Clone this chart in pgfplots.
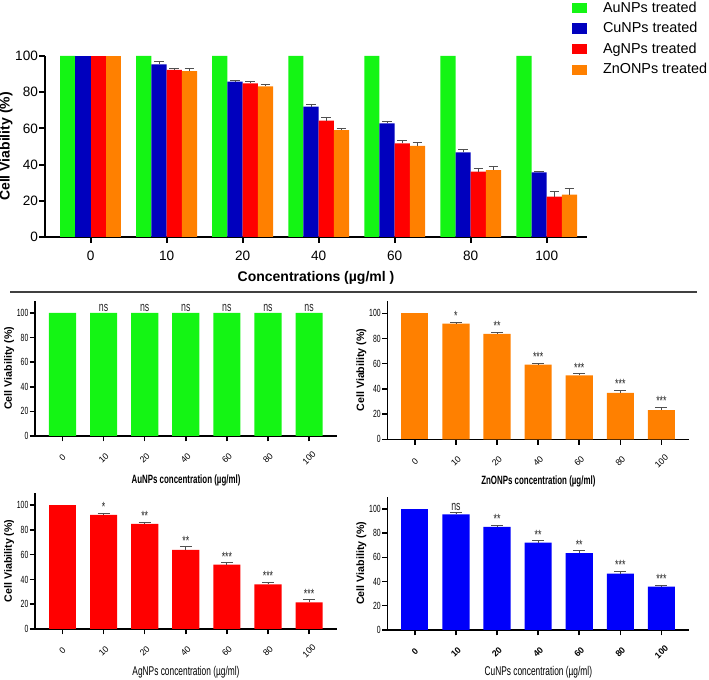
\documentclass[border=0pt]{standalone}
\usepackage{pgfplots}
\usepackage{pgfplotstable}
\pgfplotsset{compat=1.18}
\usepackage{fontspec}
\setmainfont{Liberation Sans}
\newfontfamily\narrow[FakeStretch=0.66]{Liberation Sans}
\definecolor{cgreen}{RGB}{20,245,20}
\definecolor{cblue}{RGB}{0,0,190}
\definecolor{cblue2}{RGB}{0,0,250}
\definecolor{cred}{RGB}{255,0,0}
\definecolor{corange}{RGB}{255,128,0}
\definecolor{errc}{RGB}{80,80,80}

\pgfplotstableread{
x y e lab
0 100 0 -
1 100 0 ns
2 100 0 ns
3 100 0 ns
4 100 0 ns
5 100 0 ns
6 100 0 ns
}\auTable
\pgfplotstableread{
x y e lab
0 100 0 -
1 91.8 1.3 *
2 83.6 1.3 **
3 59.2 1.3 ***
4 50.7 1.6 ***
5 36.9 2.1 ***
6 23.1 2.4 ***
}\znTable
\pgfplotstableread{
x y e lab
0 100 0 -
1 92.1 1.4 *
2 84.8 1.4 **
3 63.9 2.5 **
4 52.0 1.7 ***
5 36.0 1.9 ***
6 21.4 2.4 ***
}\agTable
\pgfplotstableread{
x y e lab
0 100 0 -
1 95.3 1.9 ns
2 85.0 1.4 **
3 72.0 1.7 **
4 63.4 2.0 **
5 46.5 2.0 ***
6 35.7 1.4 ***
}\cuTable

\pgfplotsset{
  panel/.style={
    scale only axis, width=226.5pt,
    ymin=0, ymax=110, xmin=-0.67, xmax=6.68,
    axis x line=bottom, axis y line=left,
    axis line style={-, line width=1.1pt},
    ytick={0,20,...,100}, xtick={0,...,6},
    xticklabels={0,10,20,40,60,80,100},
    tick align=outside, major tick length=4pt,
    every tick/.style={black, line width=1.1pt},
    /pgf/number format/assume math mode=true,
    yticklabel style={font=\narrow\fontsize{7.8}{8}\selectfont, inner sep=0.8pt},
    xticklabel style={font=\fontsize{6.6}{7}\selectfont, yshift=-12.5pt, rotate=45, anchor=center, inner sep=0pt},
    ylabel={Cell Viability (\%)},
    ylabel style={font=\bfseries\fontsize{8}{9}\selectfont, anchor=center},
    xlabel style={anchor=center},
  },
  errs/.style={error bars/.cd, y dir=plus, y explicit,
    error bar style={draw=errc, line width=0.6pt},
    error mark options={draw=errc, rotate=90, mark size=#1, line width=0.6pt}},
  errs/.default=4.5pt,
  labs/.style={draw=none, mark=none, nodes near coords, point meta=explicit symbolic,
    nodes near coords style={font=\narrow\fontsize{10}{10}\selectfont, anchor=south, inner sep=0.8pt, text=black!85},
    skip coords between index={0}{1}},
  firstbar/.style={ybar, bar width=0.66, bar shift=0pt, draw=none, skip coords between index={1}{7}},
  restbars/.style={ybar, bar width=0.66, bar shift=0pt, draw=none, skip coords between index={0}{1}},
  topbar/.style={ybar, bar width=0.2, bar shift=0pt, draw=none},
}

\begin{document}
\begin{tikzpicture}
\useasboundingbox (0,0) rectangle (531.75pt,510pt);

% ---------- top grouped chart ----------
\begin{axis}[
  at={(33.75pt,332.25pt)}, anchor=south west,
  scale only axis, width=406.5pt, height=135.75pt,
  ymin=0, ymax=100, xmin=-0.6, xmax=6.53,
  axis x line=bottom, axis y line=left,
  axis line style={-, line width=1.4pt},
  ytick={0,20,...,100}, xtick={0,...,6},
  xticklabels={0,10,20,40,60,80,100},
  tick align=outside, major tick length=4.5pt,
  every tick/.style={black, line width=1.4pt},
  /pgf/number format/assume math mode=true,
  tick label style={font=\fontsize{10.2}{12}\selectfont},
  yticklabel style={inner sep=0.6pt},
  xticklabel style={yshift=-2.5pt},
  ylabel={Cell Viability (\%)},
  ylabel style={font=\bfseries\fontsize{10.5}{12}\selectfont, at={(axis description cs:-0.072,0.5)}, anchor=center},
  xlabel={Concentrations (µg/ml )},
  xlabel style={font=\bfseries\fontsize{10.5}{12}\selectfont, at={(axis description cs:0.5,-0.225)}, anchor=center},
  legend style={at={(axis description cs:0.972,1.31)}, anchor=north west, draw=none, fill=none,
    font=\fontsize{10.8}{12}\selectfont, row sep=3.7pt, inner sep=0pt,
    nodes={inner sep=1.2pt}},
  legend cell align=left,
  legend image code/.code={\fill[#1] (0pt,-3.8pt) rectangle (11.5pt,3.8pt); \path (22pt,0pt);},
]
\addplot[topbar, fill=cgreen] coordinates {
(-0.3,100) (0.7,100) (1.7,100) (2.7,100) (3.7,100) (4.7,100) (5.7,100)};
\addlegendentry{AuNPs treated}
\addplot[topbar, fill=cblue, errs=3.6pt] coordinates {
(0.9,95.4) +- (0,1.8)
(1.9,85.8) +- (0,0.5)
(2.9,72.0) +- (0,1.3)
(3.9,62.8) +- (0,1.3)
(4.9,46.8) +- (0,1.5)
(5.9,35.7) +- (0,0.6)};
\addlegendentry{CuNPs treated}
\addplot[topbar, fill=cred, errs=3.6pt] coordinates {
(1.1,92.3) +- (0,0.9)
(2.1,84.9) +- (0,1.3)
(3.1,64.3) +- (0,2.0)
(4.1,51.7) +- (0,1.5)
(5.1,36.1) +- (0,1.8)
(6.1,22.3) +- (0,3.1)};
\addlegendentry{AgNPs treated}
\addplot[topbar, fill=corange, errs=3.6pt] coordinates {
(1.3,91.7) +- (0,1.5)
(2.3,83.2) +- (0,1.0)
(3.3,59.1) +- (0,1.1)
(4.3,50.3) +- (0,1.8)
(5.3,37.0) +- (0,2.2)
(6.3,23.4) +- (0,3.5)};
\addlegendentry{ZnONPs treated}
\addplot[topbar, fill=cblue, forget plot] coordinates {(-0.1,100)};
\addplot[topbar, fill=cred, forget plot] coordinates {(0.1,100)};
\addplot[topbar, fill=corange, forget plot] coordinates {(0.3,100)};
\end{axis}

\draw[black!75, line width=1.1pt] (7.5pt,291pt) -- (522.75pt,291pt);

% ---------- AuNPs ----------
\begin{axis}[panel, at={(26.25pt,183pt)}, anchor=south west, height=101.5pt,
  ylabel style={at={(axis description cs:-0.086,0.5)}},
  xlabel={AuNPs concentration (µg/ml)},
  xlabel style={font=\narrow\bfseries\fontsize{9}{9}\selectfont, at={(axis description cs:0.5,-0.325)}}]
\addplot[ybar, bar width=0.66, bar shift=0pt, fill=cgreen, draw=none] table[x=x, y=y] {\auTable};
\addplot[labs] table[x=x, y expr=\thisrow{y}+\thisrow{e}, meta=lab] {\auTable};
\end{axis}

% ---------- ZnONPs ----------
\begin{axis}[panel, at={(290.5pt,180.5pt)}, anchor=south west, height=104pt,
  ylabel style={at={(axis description cs:-0.086,0.5)}},
  xlabel={ZnONPs concentration (µg/ml)},
  xlabel style={font=\narrow\bfseries\fontsize{9}{9}\selectfont, at={(axis description cs:0.5,-0.30)}}]
\addplot[firstbar, fill=corange] table[x=x, y=y] {\znTable};
\addplot[restbars, fill=corange, errs] table[x=x, y=y, y error=e] {\znTable};
\addplot[labs] table[x=x, y expr=\thisrow{y}+\thisrow{e}, meta=lab] {\znTable};
\end{axis}

% ---------- AgNPs ----------
\begin{axis}[panel, at={(26.25pt,38.25pt)}, anchor=south west, height=102.2pt,
  ylabel style={at={(axis description cs:-0.086,0.5)}},
  xlabel={AgNPs concentration (µg/ml)},
  xlabel style={font=\narrow\fontsize{9.5}{9}\selectfont, at={(axis description cs:0.5,-0.32)}}]
\addplot[firstbar, fill=cred] table[x=x, y=y] {\agTable};
\addplot[restbars, fill=cred, errs] table[x=x, y=y, y error=e] {\agTable};
\addplot[labs] table[x=x, y expr=\thisrow{y}+\thisrow{e}, meta=lab] {\agTable};
\end{axis}

% ---------- CuNPs ----------
\begin{axis}[panel, at={(290.5pt,37.5pt)}, anchor=south west, height=100pt,
  ylabel style={at={(axis description cs:-0.086,0.5)}},
  xticklabel style={font=\bfseries\fontsize{6.6}{7}\selectfont},
  xlabel={CuNPs concentration (µg/ml)},
  xlabel style={font=\narrow\fontsize{9.5}{9}\selectfont, at={(axis description cs:0.5,-0.32)}}]
\addplot[firstbar, fill=cblue2] table[x=x, y=y] {\cuTable};
\addplot[restbars, fill=cblue2, errs] table[x=x, y=y, y error=e] {\cuTable};
\addplot[labs] table[x=x, y expr=\thisrow{y}+\thisrow{e}, meta=lab] {\cuTable};
\end{axis}
\end{tikzpicture}
\end{document}
